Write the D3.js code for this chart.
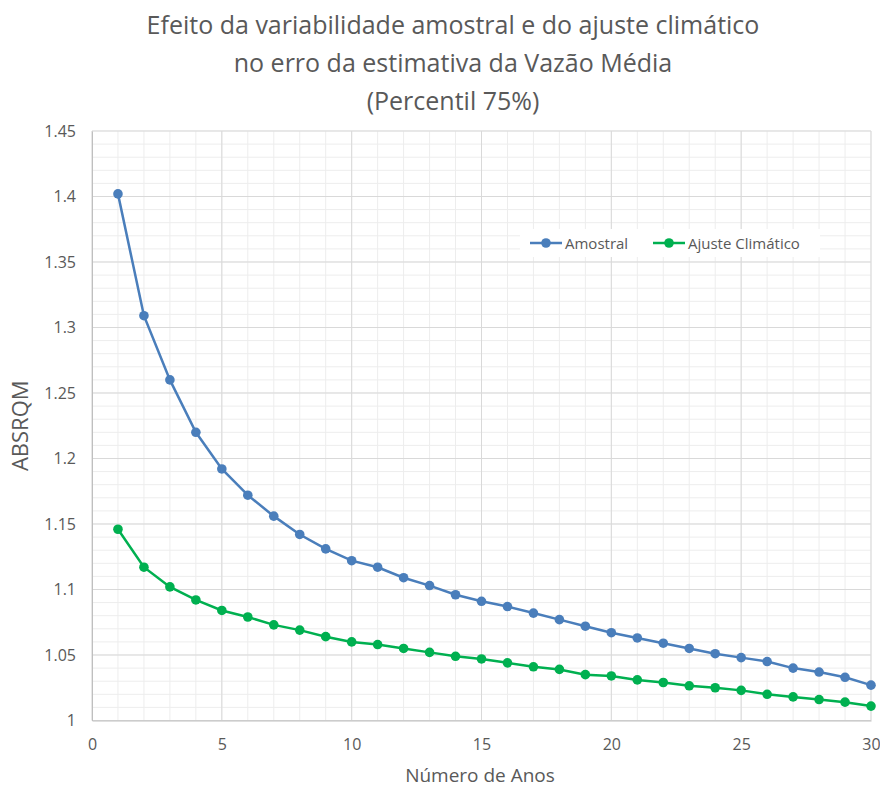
<!DOCTYPE html>
<html>
<head>
<meta charset="utf-8">
<script src="https://cdn.jsdelivr.net/npm/d3@7"></script>
<style>
  html, body { margin: 0; padding: 0; background: #fff; }
  svg { display: block; }
</style>
</head>
<body>
<svg id="chart" width="880" height="787"></svg>
<script>
// Anos de série
const anos = d3.range(1, 31);

// ABSRQM – variabilidade amostral
const amostral = [1.402, 1.309, 1.260, 1.220, 1.192, 1.172, 1.156, 1.142, 1.131, 1.122,
                  1.117, 1.109, 1.103, 1.096, 1.091, 1.087, 1.082, 1.077, 1.072, 1.067,
                  1.063, 1.059, 1.055, 1.051, 1.048, 1.045, 1.040, 1.037, 1.033, 1.027];

// ABSRQM – ajuste climático
const ajuste = [1.146, 1.117, 1.102, 1.092, 1.084, 1.079, 1.073, 1.069, 1.064, 1.060,
                1.058, 1.055, 1.052, 1.049, 1.047, 1.044, 1.041, 1.039, 1.035, 1.034,
                1.031, 1.029, 1.0265, 1.025, 1.023, 1.020, 1.018, 1.016, 1.014, 1.011];

const xTicks = [0, 5, 10, 15, 20, 25, 30];
const yTicks = [1, 1.05, 1.1, 1.15, 1.2, 1.25, 1.3, 1.35, 1.4, 1.45];
const yTickLabels = ["1", "1.05", "1.1", "1.15", "1.2", "1.25", "1.3", "1.35", "1.4", "1.45"];

const titleLines = ["Efeito da variabilidade amostral e do ajuste climático",
                    "no erro da estimativa da Vazão Média",
                    "(Percentil 75%)"];

const series = [
  { name: "Amostral", values: amostral, color: "#4a7ebb" },
  { name: "Ajuste Climático", values: ajuste, color: "#00b050" }
];

const svg = d3.select("#chart");
const m = { left: 92, right: 871, top: 131, bottom: 720.5 };

const x = d3.scaleLinear().domain([0, 30]).range([m.left, m.right]);
const y = d3.scaleLinear().domain([1, 1.45]).range([m.bottom, m.top]);

const textColor = "#595959";
const font = "'Open Sans', sans-serif";

// Grade secundária
const grid = svg.append("g");
grid.selectAll("line.minx").data(d3.range(0, 31)).join("line")
  .attr("x1", d => x(d)).attr("x2", d => x(d))
  .attr("y1", m.top).attr("y2", m.bottom)
  .attr("stroke", "#ededed").attr("stroke-width", 1);
grid.selectAll("line.miny").data(d3.range(0, 46).map(i => 1 + i * 0.01)).join("line")
  .attr("x1", m.left).attr("x2", m.right)
  .attr("y1", d => y(d)).attr("y2", d => y(d))
  .attr("stroke", "#ededed").attr("stroke-width", 1);

// Grade principal
grid.selectAll("line.majx").data(xTicks).join("line")
  .attr("x1", d => x(d)).attr("x2", d => x(d))
  .attr("y1", m.top).attr("y2", m.bottom)
  .attr("stroke", "#d9d9d9").attr("stroke-width", 1);
grid.selectAll("line.majy").data(yTicks).join("line")
  .attr("x1", m.left).attr("x2", m.right)
  .attr("y1", d => y(d)).attr("y2", d => y(d))
  .attr("stroke", "#d9d9d9").attr("stroke-width", 1);

// Eixos
const xAxis = svg.append("g")
  .attr("transform", `translate(0,${m.bottom})`)
  .call(d3.axisBottom(x).tickValues(xTicks).tickSize(0).tickPadding(18));
xAxis.select(".domain").attr("stroke", "#bfbfbf").attr("stroke-width", 1);
xAxis.selectAll("text").attr("fill", textColor).style("font-family", font).style("font-size", "16px");

const yAxis = svg.append("g")
  .attr("transform", `translate(${m.left},0)`)
  .call(d3.axisLeft(y).tickValues(yTicks).tickFormat((d, i) => yTickLabels[i]).tickSize(0).tickPadding(16));
yAxis.select(".domain").attr("stroke", "#bfbfbf").attr("stroke-width", 1);
yAxis.selectAll("text").attr("fill", textColor).style("font-family", font).style("font-size", "16px");

// Séries
const line = d3.line().x((d, i) => x(anos[i])).y(d => y(d));
series.forEach(s => {
  svg.append("path").datum(s.values)
    .attr("d", line).attr("fill", "none")
    .attr("stroke", s.color).attr("stroke-width", 2.5);
  svg.append("g").selectAll("circle").data(s.values).join("circle")
    .attr("cx", (d, i) => x(anos[i])).attr("cy", d => y(d)).attr("r", 4.8)
    .attr("fill", s.color);
});

// Título
svg.append("g").selectAll("text").data(titleLines).join("text")
  .attr("x", 453).attr("y", (d, i) => 34 + i * 38)
  .attr("text-anchor", "middle")
  .attr("fill", textColor)
  .style("font-family", font)
  .style("font-size", "25px")
  .text(d => d);

// Títulos dos eixos
svg.append("text")
  .attr("x", 480).attr("y", 782)
  .attr("text-anchor", "middle").attr("fill", textColor)
  .style("font-family", font).style("font-size", "19px")
  .text("Número de Anos");

svg.append("text")
  .attr("transform", `translate(28,${(m.top + m.bottom) / 2}) rotate(-90)`)
  .attr("text-anchor", "middle").attr("fill", textColor)
  .style("font-family", font).style("font-size", "22px")
  .text("ABSRQM");

// Legenda
const leg = svg.append("g");
leg.append("rect").attr("x", 520).attr("y", 229).attr("width", 300).attr("height", 28).attr("fill", "#fff");
const legX = [530, 653];
series.forEach((s, i) => {
  const g = leg.append("g").attr("transform", `translate(${legX[i]},243)`);
  g.append("line").attr("x1", 0).attr("x2", 32).attr("y1", 0).attr("y2", 0)
    .attr("stroke", s.color).attr("stroke-width", 2.5);
  g.append("circle").attr("cx", 16).attr("cy", 0).attr("r", 4.8).attr("fill", s.color);
  g.append("text").attr("x", 35).attr("y", 5.5)
    .attr("fill", textColor).style("font-family", font).style("font-size", "15px")
    .text(s.name);
});
</script>
</body>
</html>
